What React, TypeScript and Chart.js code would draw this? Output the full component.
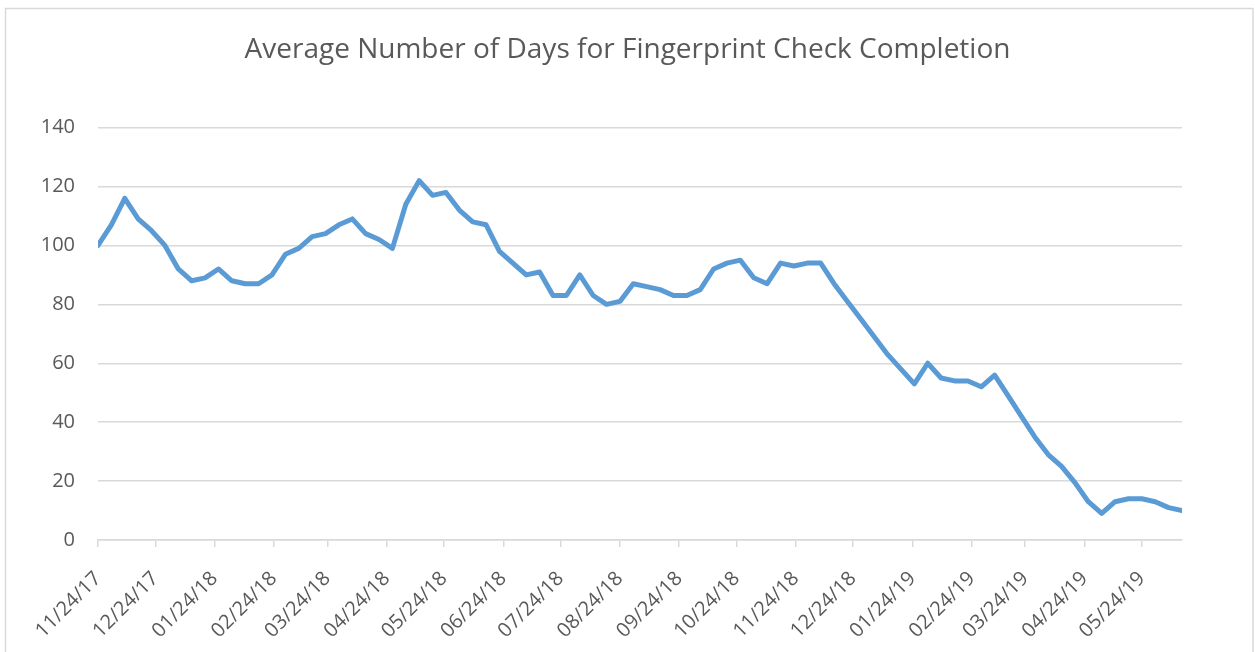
import { useEffect, useRef } from 'react';
import { Chart, registerables } from 'chart.js';

Chart.register(...registerables);

const TITLE = 'Average Number of Days for Fingerprint Check Completion';
const START_DATE = '2017-11-24';
const WEEK_DAYS = 7;

const TICK_LABELS = [
  '11/24/17', '12/24/17', '01/24/18', '02/24/18', '03/24/18', '04/24/18',
  '05/24/18', '06/24/18', '07/24/18', '08/24/18', '09/24/18', '10/24/18',
  '11/24/18', '12/24/18', '01/24/19', '02/24/19', '03/24/19', '04/24/19',
  '05/24/19',
];

const VALUES = [
  100, 107, 116, 109, 105, 100, 92, 88, 89, 92,
  88, 87, 87, 90, 97, 99, 103, 104, 107, 109,
  104, 102, 99, 114, 122, 117, 118, 112, 108, 107,
  98, 94, 90, 91, 83, 83, 90, 83, 80, 81,
  87, 86, 85, 83, 83, 85, 92, 94, 95, 89,
  87, 94, 93, 94, 94, 87, 81, 75, 69, 63,
  58, 53, 60, 55, 54, 54, 52, 56, 49, 42,
  35, 29, 25, 19.5, 13, 9, 13, 14, 14, 13,
  11, 10,
];

const Y_MIN = 0;
const Y_MAX = 140;
const Y_STEP = 20;

const START_MS = new Date(START_DATE + 'T00:00:00Z').getTime();
function dayOffset(label: string): number {
  const [m, d, y] = label.split('/').map(Number);
  return Math.round((Date.UTC(2000 + y, m - 1, d) - START_MS) / 86400000);
}
const TICK_MAP = new Map<number, string>(TICK_LABELS.map((l) => [dayOffset(l), l]));

const FONT = '"Open Sans", "Liberation Sans", sans-serif';
const TEXT_COLOR = '#595959';
const GRID_COLOR = '#d9d9d9';

const framePlugin = {
  id: 'frame',
  afterDraw(chart: any) {
    const ctx = chart.ctx;
    ctx.save();
    ctx.strokeStyle = GRID_COLOR;
    ctx.lineWidth = 1.5;
    ctx.strokeRect(5.5, 8.5, 1247.5, 700);
    ctx.restore();
  },
};

export default function App() {
  const ref = useRef<HTMLCanvasElement | null>(null);

  useEffect(() => {
    if (!ref.current) return;
    const points = VALUES.map((v, i) => ({ x: i * WEEK_DAYS, y: v }));
    const chart = new Chart(ref.current, {
      type: 'line',
      data: {
        datasets: [
          {
            label: 'Average days',
            data: points,
            borderColor: '#5b9bd5',
            backgroundColor: '#5b9bd5',
            borderWidth: 5,
            pointRadius: 0,
            tension: 0,
            borderJoinStyle: 'round',
            borderCapStyle: 'round',
            yAxisID: 'y',
          },
        ],
      },
      options: {
        animation: false,
        responsive: false,
        devicePixelRatio: 1,
        layout: { padding: { top: 0, left: 0, right: 0, bottom: 0 } },
        plugins: {
          legend: { display: false },
          tooltip: { enabled: false },
          title: {
            display: true,
            text: TITLE,
            color: TEXT_COLOR,
            font: { family: FONT, size: 28, weight: 'normal' },
            padding: { top: 33, bottom: 61 },
          },
        },
        scales: {
          x: {
            type: 'linear',
            min: 0,
            max: (VALUES.length - 1) * WEEK_DAYS,
            afterBuildTicks: (scale: any) => {
              scale.ticks = TICK_LABELS.map((l) => ({ value: dayOffset(l) }));
            },
            afterFit: (scale: any) => {
              scale.height = 112;
            },
            ticks: {
              autoSkip: false,
              maxRotation: 45,
              minRotation: 45,
              padding: 20,
              color: TEXT_COLOR,
              font: { family: FONT, size: 20 },
              callback: (value: any) => TICK_MAP.get(Number(value)) ?? '',
            },
            grid: {
              display: true,
              drawOnChartArea: false,
              drawTicks: true,
              tickLength: 7,
              color: GRID_COLOR,
              lineWidth: 1.5,
            },
            border: { display: true, color: GRID_COLOR, width: 1.5 },
          },
          y: {
            type: 'linear',
            position: 'left',
            min: Y_MIN,
            max: Y_MAX,
            afterFit: (scale: any) => {
              scale.width = 98;
            },
            ticks: {
              stepSize: Y_STEP,
              padding: 23,
              color: TEXT_COLOR,
              font: { family: FONT, size: 20 },
            },
            grid: { color: GRID_COLOR, lineWidth: 1.5, drawTicks: false },
            border: { display: false },
          },
          yRight: {
            type: 'linear',
            position: 'right',
            display: true,
            afterFit: (scale: any) => {
              scale.width = 73;
            },
            ticks: { display: false },
            grid: { display: false, drawTicks: false },
            border: { display: false },
          },
        },
      },
      plugins: [framePlugin],
    } as any);
    return () => chart.destroy();
  }, []);

  return (
    <div style={{ position: 'fixed', left: 0, top: 0, width: 1255, height: 652, background: '#fff' }}>
      <canvas ref={ref} width={1255} height={652} />
    </div>
  );
}
